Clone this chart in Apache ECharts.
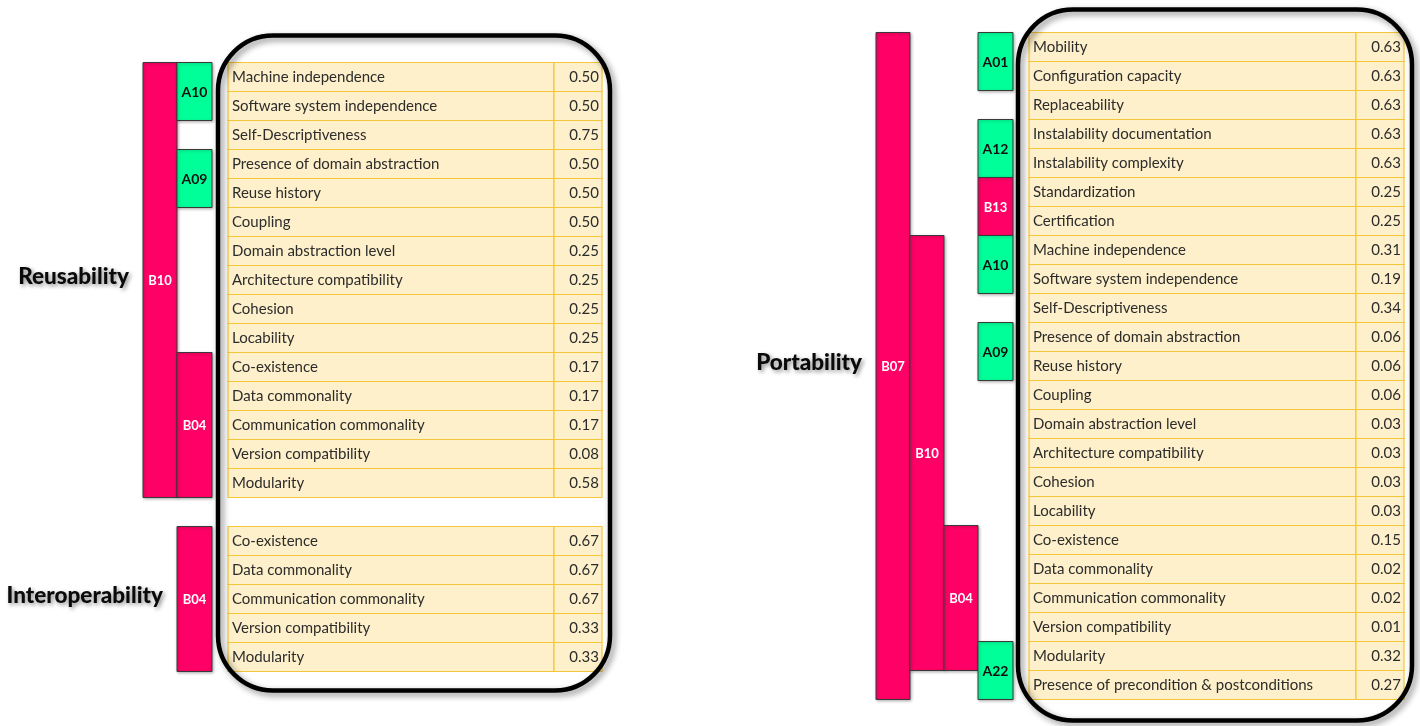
<!DOCTYPE html>
<html><head><meta charset="utf-8">
<script src="https://cdn.jsdelivr.net/npm/echarts@6/dist/echarts.min.js"></script>
<style>html,body{margin:0;padding:0;background:#fff}#c{width:1420px;height:726px}</style>
</head><body><div id="c"></div>
<script>
// ---------------- DATA ----------------
const reusabilityAttributes = ["Machine independence","Software system independence","Self-Descriptiveness","Presence of domain abstraction","Reuse history","Coupling","Domain abstraction level","Architecture compatibility","Cohesion","Locability","Co-existence","Data commonality","Communication commonality","Version compatibility","Modularity"];
const reusabilityValues = [0.50,0.50,0.75,0.50,0.50,0.50,0.25,0.25,0.25,0.25,0.17,0.17,0.17,0.08,0.58];
const interoperabilityAttributes = ["Co-existence","Data commonality","Communication commonality","Version compatibility","Modularity"];
const interoperabilityValues = [0.67,0.67,0.67,0.33,0.33];
const portabilityAttributes = ["Mobility","Configuration capacity","Replaceability","Instalability documentation","Instalability complexity","Standardization","Certification","Machine independence","Software system independence","Self-Descriptiveness","Presence of domain abstraction","Reuse history","Coupling","Domain abstraction level","Architecture compatibility","Cohesion","Locability","Co-existence","Data commonality","Communication commonality","Version compatibility","Modularity","Presence of precondition & postconditions"];
const portabilityValues = [0.63,0.63,0.63,0.63,0.63,0.25,0.25,0.31,0.19,0.34,0.06,0.06,0.06,0.03,0.03,0.03,0.03,0.15,0.02,0.02,0.01,0.32,0.27];
// group brackets: code, kind (A/B), nesting level, first row, last row
const reusabilityGroups = [["B10","B",0,0,14],["A10","A",1,0,1],["A09","A",1,3,4],["B04","B",1,10,14]];
const interoperabilityGroups = [["B04","B",1,0,4]];
const portabilityGroups = [["B07","B",0,0,22],["B10","B",1,7,21],["B04","B",2,17,21],["A01","A",3,0,1],["A12","A",3,3,4],["B13","B",3,5,6],["A10","A",3,7,8],["A09","A",3,10,11],["A22","A",3,21,22]];

// ---------------- LAYOUT ----------------
const ROW_H = 29, LEVEL_W = 34;
const panels = [
  { grid:{left:143, top:62.5, width:459}, nRows:21, tableLeft:85, divider:411, tableRight:459,
    frame:{x0:75, x1:467, padTop:27, padBottom:19},
    sections:[
      {title:"Reusability", attrs:reusabilityAttributes, vals:reusabilityValues, groups:reusabilityGroups, offset:0},
      {title:"Interoperability", attrs:interoperabilityAttributes, vals:interoperabilityValues, groups:interoperabilityGroups, offset:reusabilityAttributes.length+1}
    ]},
  { grid:{left:876, top:32.5, width:528}, nRows:23, tableLeft:153, divider:480, tableRight:528,
    frame:{x0:142, x1:536, padTop:23, padBottom:21},
    sections:[
      {title:"Portability", attrs:portabilityAttributes, vals:portabilityValues, groups:portabilityGroups, offset:0}
    ]}
];

const PINK = '#FF0066', GREEN = '#00FF99';
const TXT_FONT = '15px Lato';

const grids = [], xAxes = [], yAxes = [], series = [];
panels.forEach((p, pi) => {
  grids.push({left:p.grid.left, top:p.grid.top, width:p.grid.width, height:p.nRows*ROW_H});
  xAxes.push({type:'value', gridIndex:pi, min:0, max:p.grid.width, show:false});
  yAxes.push({type:'value', gridIndex:pi, min:0, max:p.nRows, inverse:true, show:false});

  // table cells
  const rowIdx = [], names = [], vals = [];
  p.sections.forEach(s => s.attrs.forEach((a, i) => { rowIdx.push(s.offset + i); names.push(a); vals.push(s.vals[i]); }));
  series.push({
    type:'custom', xAxisIndex:pi, yAxisIndex:pi, clip:false, z:2, silent:true,
    data: rowIdx.map((r, i) => [0, r, vals[i]]),
    renderItem(params, api) {
      const r = api.value(1), v = api.value(2);
      const y0 = api.coord([0, r])[1], y1 = api.coord([0, r + 1])[1];
      const xL = api.coord([p.tableLeft, 0])[0], xD = api.coord([p.divider, 0])[0], xR = api.coord([p.tableRight, 0])[0];
      const cs = {fill:'#FEF0CA', stroke:'#F5C63A', lineWidth:1.2};
      const ym = (y0 + y1) / 2;
      return {type:'group', children:[
        {type:'rect', shape:{x:xL, y:y0, width:xD - xL, height:y1 - y0}, style:cs},
        {type:'rect', shape:{x:xD, y:y0, width:xR - xD, height:y1 - y0}, style:cs},
        {type:'text', style:{text:names[params.dataIndex], x:xL + 4, y:ym + 0.5, fill:'#2c2c2c', font:TXT_FONT, align:'left', verticalAlign:'middle'}},
        {type:'text', style:{text:v.toFixed(2), x:xR - 3, y:ym + 0.5, fill:'#2c2c2c', font:TXT_FONT, align:'right', verticalAlign:'middle'}}
      ]};
    }
  });

  // group brackets
  const gItems = [];
  p.sections.forEach(s => s.groups.forEach(g => gItems.push({code:g[0], kind:g[1], level:g[2], from:s.offset + g[3], to:s.offset + g[4]})));
  series.push({
    type:'custom', xAxisIndex:pi, yAxisIndex:pi, clip:false, z:3, silent:true,
    data: gItems.map(g => [g.level, g.from, g.to]),
    renderItem(params, api) {
      const g = gItems[params.dataIndex];
      const lv = api.value(0), from = api.value(1), to = api.value(2);
      const p0 = api.coord([lv * LEVEL_W, from]), p1 = api.coord([(lv + 1) * LEVEL_W + (lv === 3 || (pi === 0 && lv === 1) ? 1 : 0), to + 1]);
      const isB = g.kind === 'B';
      return {type:'group', children:[
        {type:'rect', shape:{x:p0[0], y:p0[1], width:p1[0] - p0[0], height:p1[1] - p0[1]},
          style:{fill:isB ? PINK : GREEN, stroke:'#3a3a3a', lineWidth:1, shadowBlur:3, shadowColor:'rgba(0,0,0,0.3)', shadowOffsetX:1, shadowOffsetY:1}},
        {type:'text', style:{text:g.code, x:(p0[0] + p1[0]) / 2, y:(p0[1] + p1[1]) / 2 + 1,
          fill:isB ? '#ffffff' : '#111111', font:isB ? 'bold 13px Lato' : 'bold 14px Lato', align:'center', verticalAlign:'middle'}}
      ]};
    }
  });

  // section titles
  const tItems = p.sections.map(s => {
    const minLevel = Math.min(...s.groups.map(g => g[2]));
    return {title:s.title, level:minLevel, from:s.offset, to:s.offset + s.attrs.length - 1};
  });
  series.push({
    type:'custom', xAxisIndex:pi, yAxisIndex:pi, clip:false, z:3, silent:true,
    data: tItems.map(t => [t.level, t.from, t.to]),
    renderItem(params, api) {
      const t = tItems[params.dataIndex];
      const x = api.coord([api.value(0) * LEVEL_W, 0])[0] - 14;
      const yA = api.coord([0, api.value(1)])[1], yB = api.coord([0, api.value(2) + 1])[1];
      return {type:'text', style:{text:t.title, x:x, y:(yA + yB) / 2 - 3, fill:'#0a0a0a', font:'900 22.5px Lato', align:'right', verticalAlign:'middle',
        textShadowColor:'rgba(0,0,0,0.45)', textShadowBlur:4, textShadowOffsetX:2, textShadowOffsetY:2}};
    }
  });

  // rounded frame around the table
  series.push({
    type:'custom', xAxisIndex:pi, yAxisIndex:pi, clip:false, z:5, silent:true,
    data: [[p.frame.x0, 0, p.frame.x1, p.nRows]],
    renderItem(params, api) {
      const a = api.coord([api.value(0), api.value(1)]), b = api.coord([api.value(2), api.value(3)]);
      const y0 = a[1] - p.frame.padTop, y1 = b[1] + p.frame.padBottom;
      return {type:'rect', shape:{x:a[0], y:y0, width:b[0] - a[0], height:y1 - y0, r:55},
        style:{fill:null, stroke:'#000', lineWidth:4.5, shadowBlur:6, shadowColor:'rgba(0,0,0,0.45)', shadowOffsetX:3, shadowOffsetY:3}};
    }
  });
});

const chart = echarts.init(document.getElementById('c'), null, {renderer:'canvas'});
chart.setOption({animation:false, backgroundColor:'#fff', grid:grids, xAxis:xAxes, yAxis:yAxes, series:series});
</script></body></html>
